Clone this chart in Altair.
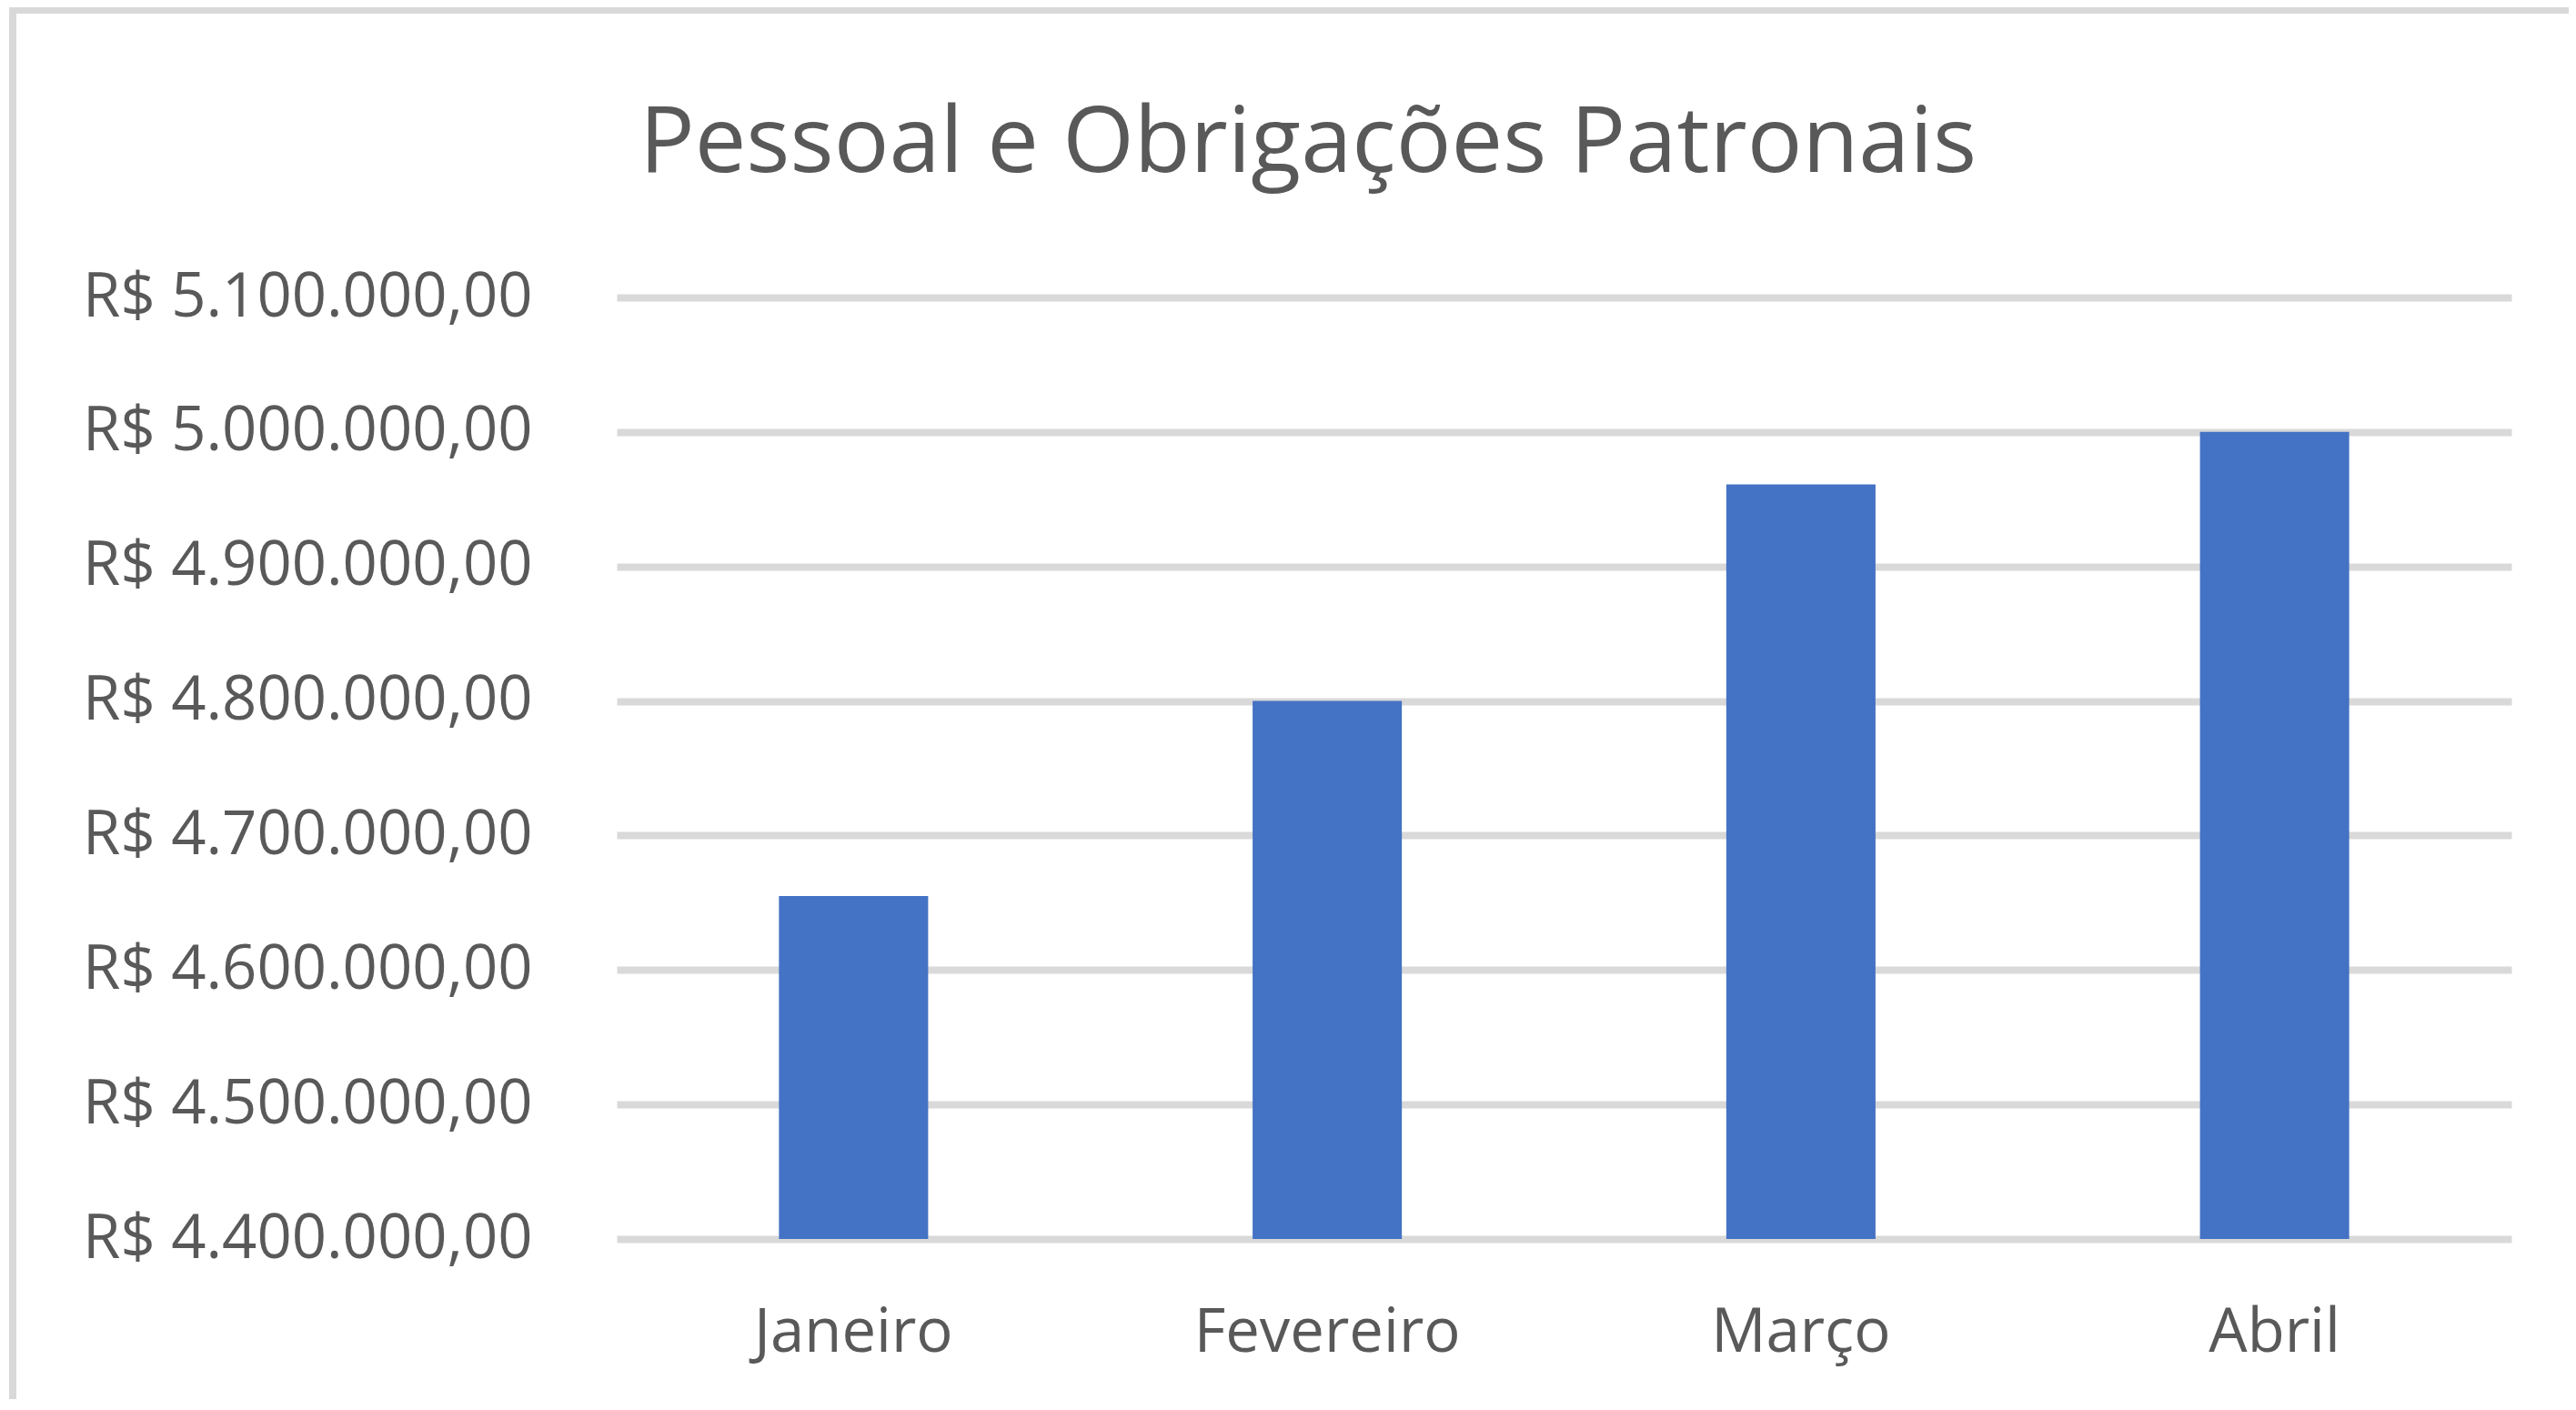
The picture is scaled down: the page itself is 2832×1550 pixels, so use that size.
import altair as alt
import pandas as pd

months = ["Janeiro", "Fevereiro", "Março", "Abril"]
values = [4655000, 4800000, 4961000, 5000000]
y_ticks = [4400000, 4500000, 4600000, 4700000, 4800000, 4900000, 5000000, 5100000]
title_text = "Pessoal e Obrigações Patronais"

df = pd.DataFrame({"mes": months, "valor": values})
df_title = pd.DataFrame({"t": [title_text]})

FONT = "Open Sans"
GRAY = "#595959"
GRID = "#D9D9D9"

bars = alt.Chart(df).mark_bar(color="#4472C4").encode(
    x=alt.X(
        "mes:N",
        sort=months,
        title=None,
        scale=alt.Scale(paddingInner=0.685, paddingOuter=0.3425),
        axis=alt.Axis(
            labelAngle=0,
            ticks=False,
            domain=False,
            labelFont=FONT,
            labelFontSize=67,
            labelColor=GRAY,
            labelBaseline="alphabetic",
            labelPadding=123,
            labelLimit=0,
        ),
    ),
    y=alt.Y(
        "valor:Q",
        title=None,
        scale=alt.Scale(domain=[y_ticks[0], y_ticks[-1]], zero=False, nice=False),
        axis=alt.Axis(
            values=y_ticks,
            format="$,.2f",
            ticks=False,
            domain=False,
            grid=True,
            gridColor=GRID,
            gridWidth=8,
            labelFont=FONT,
            labelFontSize=67,
            labelColor=GRAY,
            labelPadding=93,
            labelLimit=0,
        ),
    ),
    y2=alt.datum(y_ticks[0]),
)

border_top = alt.Chart(df).mark_rule(color=GRID, strokeWidth=8).encode(
    x=alt.value(-668), x2=alt.value(2160), y=alt.value(-316)
)
border_left = alt.Chart(df).mark_rule(color=GRID, strokeWidth=8).encode(
    x=alt.value(-664), y=alt.value(-320), y2=alt.value(1230)
)

title = alt.Chart(df_title).mark_text(
    font=FONT,
    fontSize=101,
    color=GRAY,
    align="center",
    baseline="alphabetic",
).encode(text="t:N", x=alt.value(760), y=alt.value(-138))

chart = (
    alt.layer(border_top, border_left, title, bars)
    .properties(
        width=2083,
        height=1035,
        autosize=alt.AutoSizeParams(type="none"),
        padding={"left": 670, "top": 319, "right": 63, "bottom": 176},
    )
    .configure(
        locale=alt.Locale(
            number=alt.NumberLocale(
                decimal=",", thousands=".", grouping=[3], currency=["R$ ", ""]
            )
        )
    )
    .configure_view(strokeWidth=0)
)

chart.save("out.html", embed_options={"renderer": "svg", "actions": False})
